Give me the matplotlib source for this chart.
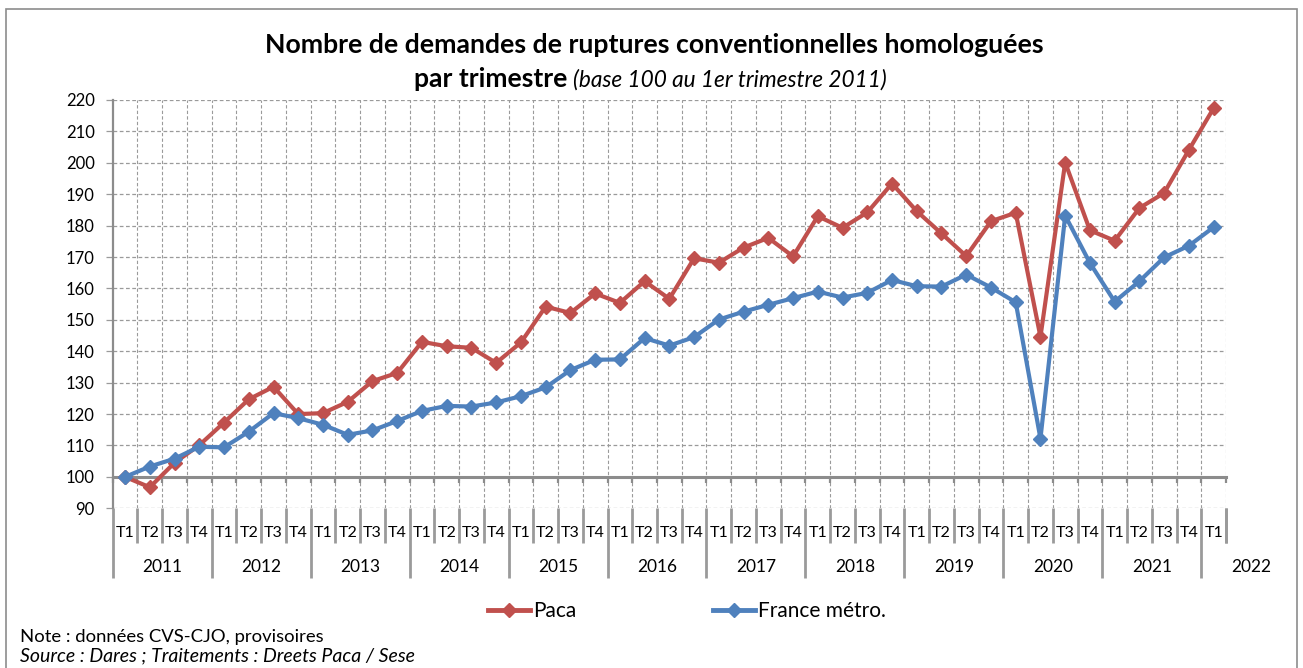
import numpy as np
import matplotlib
matplotlib.use("Agg")
import matplotlib.pyplot as plt
import matplotlib.transforms as mtransforms
from matplotlib.lines import Line2D
from matplotlib.patches import Rectangle

plt.rcParams['font.family'] = ['Lato', 'DejaVu Sans']

# ---------------- data ----------------
years = ['2011', '2012', '2013', '2014', '2015', '2016', '2017', '2018',
         '2019', '2020', '2021', '2022']
quarters = ['T1', 'T2', 'T3', 'T4'] * 11 + ['T1']

paca = [100.0, 96.7, 104.5, 110.1,
        117.3, 124.7, 128.7, 120.0,
        120.3, 123.9, 130.5, 133.1,
        143.0, 141.6, 141.1, 136.3,
        142.8, 154.2, 152.2, 158.4,
        155.4, 162.3, 156.7, 169.6,
        168.2, 173.0, 176.1, 170.2,
        183.0, 179.3, 184.2, 193.4,
        184.6, 177.5, 170.3, 181.4,
        184.1, 144.6, 200.1, 178.5,
        175.2, 185.6, 190.4, 204.1,
        217.4]

france = [100.0, 103.3, 105.8, 109.6,
          109.4, 114.4, 120.3, 118.7,
          116.6, 113.4, 114.8, 117.8,
          121.0, 122.6, 122.4, 123.7,
          125.7, 128.5, 134.0, 137.3,
          137.4, 144.2, 141.8, 144.5,
          150.1, 152.6, 154.8, 156.9,
          159.0, 157.1, 158.6, 162.7,
          160.7, 160.6, 164.4, 160.3,
          155.6, 112.2, 183.2, 168.1,
          155.8, 162.3, 169.9, 173.6,
          179.5]

yticks = [90, 100, 110, 120, 130, 140, 150, 160, 170, 180, 190, 200, 210, 220]

series_names = ['Paca', 'France métro.']
colors = ['#C0504D', '#4F81BD']

title1 = 'Nombre de demandes de ruptures conventionnelles homologuées'
title2_bold = 'par trimestre'
title2_it = '(base 100 au 1er trimestre 2011)'
note = 'Note : données CVS-CJO, provisoires'
source = 'Source : Dares ; Traitements : Dreets Paca / Sese'

# ---------------- layout helpers ----------------
W, H = 1303, 668
fig = plt.figure(figsize=(W / 100, H / 100), dpi=100)


def fx(px):
    return px / W


def fy(py):
    return 1 - py / H


ax_l, ax_r, ax_t, ax_b = 112.7, 1226.0, 100.0, 508.3
ax = fig.add_axes([fx(ax_l), fy(ax_b), fx(ax_r) - fx(ax_l), fy(ax_t) - fy(ax_b)])

n = len(quarters)
x = np.arange(n)
grid_col = '#9a9a9a'
axis_col = '#8c8c8c'

ax.set_xlim(-0.5, n - 0.5)
ax.set_ylim(yticks[0], yticks[-1])

# grid lines
for yv in yticks:
    if yv == 100:
        continue
    ax.axhline(yv, color=grid_col, lw=0.9, ls=(0, (3, 2)), zorder=0)
bounds = np.arange(-0.5, n, 1.0)
for b in bounds[1:]:
    ax.axvline(b, color=grid_col, lw=0.8, ls=(0, (3, 2)), zorder=0)

# series
ax.plot(x, paca, color=colors[0], lw=3, marker='D', ms=7.5, zorder=3,
        label=series_names[0])
ax.plot(x, france, color=colors[1], lw=3, marker='D', ms=7.5, zorder=4,
        label=series_names[1])

# spines
for s in ['top', 'right']:
    ax.spines[s].set_visible(False)
ax.spines['left'].set_color(axis_col)
ax.spines['left'].set_linewidth(1.6)
ax.spines['bottom'].set_position(('data', 100))
ax.spines['bottom'].set_color(axis_col)
ax.spines['bottom'].set_linewidth(2.2)
ax.spines['bottom'].set_zorder(2)

ax.set_xticks(bounds)
ax.set_xticklabels([])
ax.tick_params(axis='x', direction='out', length=4, width=1.6, color=axis_col)
ax.set_yticks(yticks)
ax.set_yticklabels([str(v) for v in yticks])
ax.tick_params(axis='y', direction='out', length=5, width=0.9, color=grid_col,
               pad=8, labelsize=12)

# category labels below the plot
blend = mtransforms.blended_transform_factory(ax.transData, fig.transFigure)
for i, q in enumerate(quarters):
    fig.text(i, fy(533), q, transform=blend, ha='center', va='center', fontsize=11.5)
for k, yr in enumerate(years):
    fig.text(4 * k + 1.5, fy(567), yr, transform=blend, ha='center', va='center',
             fontsize=12.5)

sep_col = '#9a9a9a'
for i, b in enumerate(bounds.tolist() + [n - 0.5]):
    is_year = (i % 4 == 0) and i < n
    y_end = 578 if is_year else 543
    fig.add_artist(Line2D([b, b], [fy(ax_b), fy(y_end)], transform=blend,
                          color=sep_col, lw=2.0, solid_capstyle='butt'))

# titles
fig.text(fx(654), fy(45), title1, ha='center', va='center', fontsize=19.2,
         fontweight='bold')
fig.text(fx(567), fy(79), title2_bold, ha='right', va='center', fontsize=19.1,
         fontweight='bold')
fig.text(fx(573), fy(80), title2_it, ha='left', va='center', fontsize=16.3,
         style='italic')

# legend
handles = [Line2D([], [], color=c, lw=3.5, marker='D', ms=7.5) for c in colors]
fig.legend(handles, series_names, loc='center', bbox_to_anchor=(fx(687), fy(611)),
           ncol=2, frameon=False, fontsize=15, handlelength=2.0,
           handletextpad=0.15, columnspacing=6.6, borderpad=0, borderaxespad=0)

# notes
fig.text(fx(20), fy(637), note, ha='left', va='center', fontsize=13.3)
fig.text(fx(20), fy(656), source, ha='left', va='center', fontsize=14,
         style='italic')

# outer border
fig.add_artist(Rectangle((fx(6), fy(680)), fx(1297) - fx(6), fy(9) - fy(680),
                         transform=fig.transFigure, fill=False,
                         edgecolor='#8c8c8c', lw=1.2, clip_on=False))

fig.savefig('out.png', dpi=100)
